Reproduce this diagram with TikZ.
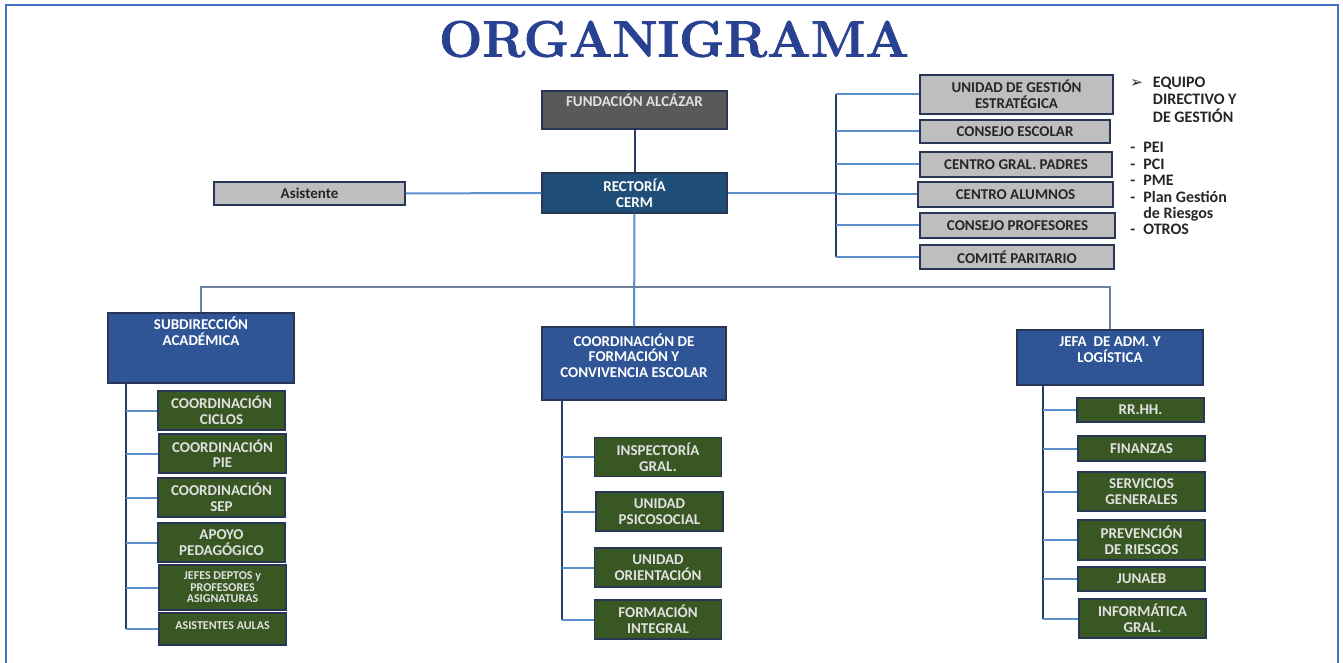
\documentclass[tikz,border=0pt]{standalone}
\usepackage{fontspec}
\newfontfamily\calibri{Carlito}
\newfontfamily\dejavu{DejaVu Sans}
\newfontfamily\titulofont[BoldFeatures={FakeBold=1.5}]{Latin Modern Roman}
\usetikzlibrary{calc}
\definecolor{cTitulo}{RGB}{41,65,145}
\definecolor{cFund}{RGB}{89,89,89}
\definecolor{cRect}{RGB}{31,78,121}
\definecolor{cAzul}{RGB}{47,85,151}
\definecolor{cVerde}{RGB}{56,87,35}
\definecolor{cGris}{RGB}{190,190,190}
\definecolor{cBorde}{RGB}{40,55,85}
\definecolor{cTexto}{RGB}{38,38,38}
\definecolor{cClaro}{RGB}{225,225,225}
\definecolor{cCeleste}{RGB}{91,142,205}
\definecolor{cMarino}{RGB}{38,60,100}
\definecolor{cBus}{RGB}{110,130,160}
\definecolor{cMarco}{RGB}{68,114,196}

\begin{document}
\begin{tikzpicture}[x=0.5pt,y=-0.5pt,
 font=\calibri\bfseries\fontsize{7.5}{7.8}\selectfont,
 caja/.style={draw=cBorde,line width=0.6pt,align=center,inner xsep=1pt,inner ysep=2pt},
 gris/.style={caja,fill=cGris,text=cTexto},
 azul/.style={caja,fill=cAzul,text=white},
 verde/.style={caja,fill=cVerde,text=cClaro,minimum width=63.5pt,minimum height=19.5pt},
 arriba/.style={text depth=#1},
 nota/.style={inner sep=0pt,text=cTexto,font=\calibri\bfseries\fontsize{8}{8.2}\selectfont},
 titulo/.style={inner sep=0pt,text=cTitulo,font=\titulofont\bfseries\fontsize{25.6}{26}\selectfont},
 ramal/.style={draw=cCeleste,line width=1pt},
 tronco/.style={draw=cMarino,line width=1pt},
 bus/.style={draw=cBus,line width=0.8pt}]
\useasboundingbox (0,0) rectangle (1343,663);
\draw[cMarco,line width=1pt] (6,663) -- (6,5) -- (1338,5) -- (1338,663);

\node[titulo] (titulo) at (674,39) {ORGANIGRAMA};

% direccion
\node[gris,fill=cFund,text=cClaro,minimum width=92.5pt,minimum height=19pt,text height=6pt,arriba=9pt] (fund) at (634.5,110) {FUNDACIÓN ALCÁZAR};
\node[caja,fill=cRect,text=white,minimum width=92.5pt,minimum height=20pt] (rect) at (634.5,193) {RECTORÍA\\CERM};
\node[gris,minimum width=95.5pt,minimum height=11.5pt] (asis) at (309.5,193.5) {Asistente};

% organismos de apoyo
\node[gris,minimum width=96.5pt,minimum height=19.5pt] (uge) at (1016.5,94.5) {UNIDAD DE GESTIÓN\\ESTRATÉGICA};
\node[gris,minimum width=95pt,minimum height=11.5pt] (cesc) at (1015,131.5) {CONSEJO ESCOLAR};
\node[gris,minimum width=96pt,minimum height=12.5pt] (cgp) at (1016,164.5) {CENTRO GRAL. PADRES};
\node[gris,minimum width=97.5pt,minimum height=12.5pt] (calu) at (1015.5,194.5) {CENTRO ALUMNOS};
\node[gris,minimum width=97.5pt,minimum height=12.5pt] (cprof) at (1017.5,225.5) {CONSEJO PROFESORES};
\node[gris,minimum width=97pt,minimum height=12pt] (cpar) at (1017,257) {COMITÉ PARITARIO};

\node[nota,anchor=north west] (equipo) at (1130,76) {\begin{tabular}{@{}l@{\hspace{5pt}}l@{}}{\dejavu\fontsize{7.5}{7.5}\selectfont ➢} & EQUIPO\\ & DIRECTIVO Y\\ & DE GESTIÓN\end{tabular}};
\node[nota,anchor=north west] (planes) at (1130,141) {\begin{tabular}{@{}l@{\hspace{4pt}}l@{}}- & PEI\\- & PCI\\- & PME\\- & Plan Gestión\\ & de Riesgos\\- & OTROS\end{tabular}};

% subdireccion academica
\node[azul,minimum width=93pt,minimum height=35pt,arriba=16.5pt] (sd) at (201,348) {SUBDIRECCIÓN\\ACADÉMICA};
\node[verde] (c1) at (221.5,410.5) {COORDINACIÓN\\CICLOS};
\node[verde] (c2) at (222.5,453.5) {COORDINACIÓN\\PIE};
\node[verde] (c3) at (221.5,497.5) {COORDINACIÓN\\SEP};
\node[verde] (c4) at (221.5,542.5) {APOYO\\PEDAGÓGICO};
\node[verde,minimum height=22.5pt,font=\calibri\bfseries\fontsize{6}{5.8}\selectfont] (c5) at (222.5,587.5) {JEFES DEPTOS y\\PROFESORES\\ASIGNATURAS};
\node[verde,minimum height=16pt,text height=6pt,arriba=6pt,font=\calibri\bfseries\fontsize{6}{6.5}\selectfont] (c6) at (222.5,629) {ASISTENTES AULAS};

% formacion y convivencia
\node[azul,minimum width=92pt,minimum height=36.5pt,arriba=8pt] (cf) at (634,363.5) {COORDINACIÓN DE\\FORMACIÓN Y\\CONVIVENCIA ESCOLAR};
\node[verde] (f1) at (658,457) {INSPECTORÍA\\GRAL.};
\node[verde] (f2) at (659.5,511.5) {UNIDAD\\PSICOSOCIAL};
\node[verde] (f3) at (658,567.5) {UNIDAD\\ORIENTACIÓN};
\node[verde] (f4) at (658,619.5) {FORMACIÓN\\INTEGRAL};

% administracion
\node[azul,minimum width=93pt,minimum height=27.5pt,arriba=8pt] (ja) at (1110,357.5) {JEFA\ \ DE ADM. Y\\LOGÍSTICA};
\node[verde,minimum height=12pt] (j1) at (1140.5,410) {RR.HH.};
\node[verde,minimum height=12.5pt] (j2) at (1141.5,448.5) {FINANZAS};
\node[verde] (j3) at (1141.5,491.5) {SERVICIOS\\GENERALES};
\node[verde,minimum height=20pt] (j4) at (1141.5,540) {PREVENCIÓN\\DE RIESGOS};
\node[verde,minimum height=12pt] (j5) at (1141.5,579) {JUNAEB};
\node[verde] (j6) at (1142.5,618.5) {INFORMÁTICA\\GRAL.};

% conectores
\coordinate (bus) at (634.5,287);
\coordinate (td) at (836,195);
\coordinate (ts) at (126,383);
\coordinate (tf) at (562,400);
\coordinate (tj) at (1043,385);
\draw[tronco] (fund) -- (rect);
\draw[ramal] (asis) -- (rect);
\draw[ramal] (rect) -- (cf);
\draw[bus] (sd.north) |- (bus) -| (ja.north);
\draw[ramal] (rect.east) -- (rect.east -| td);
\draw[tronco] (td |- uge.west) -- (td |- cpar.west);
\foreach \n in {uge,cesc,cgp,calu,cprof,cpar}
 \draw[ramal] (td |- \n.west) -- (\n.west);
\draw[tronco] (ts) -- (ts |- c6.west);
\foreach \n in {c1,c2,c3,c4,c5,c6}
 \draw[ramal] (ts |- \n.west) -- (\n.west);
\draw[tronco] (tf) -- (tf |- f4.west);
\foreach \n in {f1,f2,f3,f4}
 \draw[ramal] (tf |- \n.west) -- (\n.west);
\draw[tronco] (tj) -- (tj |- j6.west);
\foreach \n in {j1,j2,j3,j4,j5,j6}
 \draw[ramal] (tj |- \n.west) -- (\n.west);
\end{tikzpicture}
\end{document}
